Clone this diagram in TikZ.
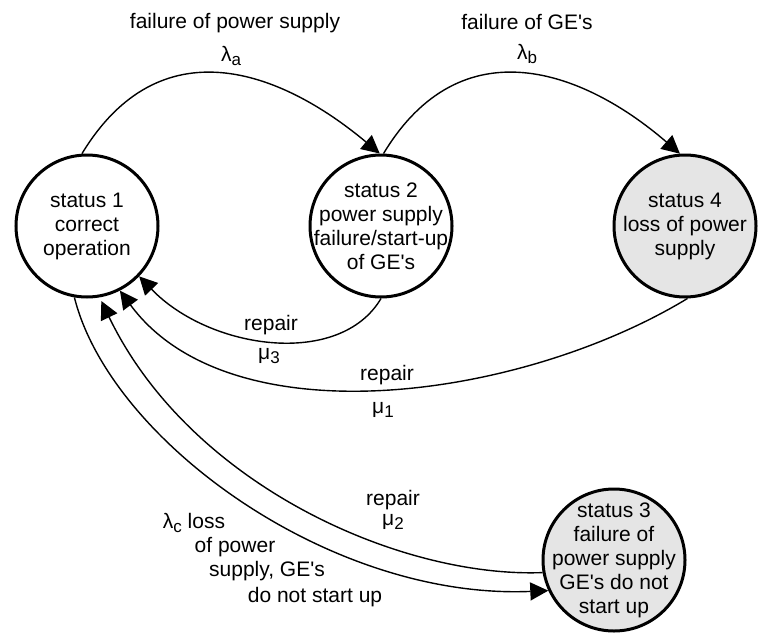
\documentclass[tikz,border=0pt]{standalone}
\usepackage{fontspec}
\setmainfont{Liberation Sans}[Ligatures=TeXOff]
\usetikzlibrary{arrows.meta}
\newcommand\sbs[1]{\raisebox{-0.4ex}{\fontsize{17}{17}\selectfont #1}}
\begin{document}
\begin{tikzpicture}[x=1pt,y=-1pt,
  state/.style={circle,draw=black,line width=3pt,minimum size=142pt,inner sep=-14pt,
    align=center,font=\fontsize{21}{24}\selectfont},
  lost/.style={state,fill=black!10},
  trans/.style={line width=1.4pt,-{Triangle[length=18pt,width=18pt]}},
  lbl/.style={font=\fontsize{21}{24}\selectfont,inner sep=0pt}]
\useasboundingbox (0,0) rectangle (760,632);

% states
\node[state] (s1) at (87,226) {status 1\\correct\\operation};
\node[state] (s2) at (381,226) {status 2\\power supply\\failure/start-up\\of GE's};
\node[lost]  (s4) at (685,226) {status 4\\loss of power\\supply};
\node[lost]  (s3) at (614,560) {status 3\\failure of\\power supply\\GE's do not\\start up};

% failure transitions
\draw[trans] (s1.94) .. controls (160,25) and (280,70) .. (s2.91);
\draw[trans] (s2.88) .. controls (461,25) and (583,70) .. (s4.94);
\draw[trans] (s1.260) .. controls (110,440) and (330,600) .. (s3.205);

% repair transitions
\draw[trans] (s2.270) .. controls (340,368) and (210,350) .. (s1.316);
\draw[trans] (s4.272) .. controls (520,400) and (230,440) .. (s1.297);
\draw[trans,shorten >=4pt] (s3.190) .. controls (400,578) and (190,485) .. (s1.280);

% labels
\node[lbl] (ta) at (235,23) {failure of power supply};
\node[lbl] (la) at (231,56) {λ\sbs{a}};
\node[lbl] (tb) at (527,22) {failure of GE's};
\node[lbl] (lb) at (527,54) {λ\sbs{b}};
\node[lbl] (r3) at (271,325) {repair};
\node[lbl] (m3) at (269,356) {μ\sbs{3}};
\node[lbl] (r1) at (387,375) {repair};
\node[lbl] (m1) at (383,410) {μ\sbs{1}};
\node[lbl] (r2) at (393,500) {repair};
\node[lbl] (m2) at (393,522) {μ\sbs{2}};
\node[lbl] (c1) at (194,523) {λ\sbs{c} loss};
\node[lbl] (c2) at (235,547) {of power};
\node[lbl] (c3) at (267,571) {supply, GE's};
\node[lbl] (c4) at (315,597) {do not start up};
\end{tikzpicture}
\end{document}
